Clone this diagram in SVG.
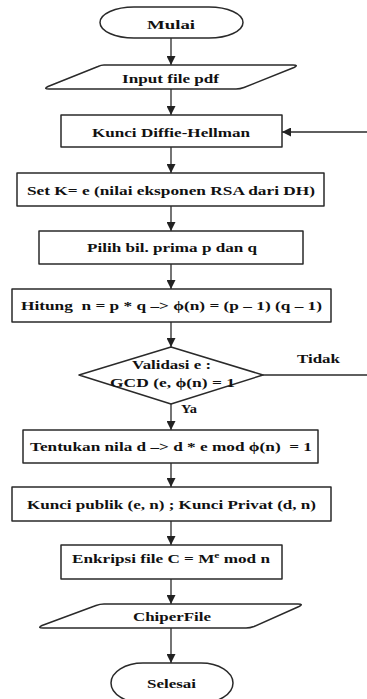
<svg xmlns="http://www.w3.org/2000/svg" width="367" height="699" viewBox="0 0 367 699">
<style>
.s{fill:#fff;stroke:#2a2a2a;stroke-width:1.5;stroke-linejoin:round}
.t{font-family:"Liberation Serif","Times New Roman",serif;font-weight:bold;font-size:13.5px;fill:#111}
.c{fill:none;stroke:#2a2a2a;stroke-width:1.3}
</style>
<defs>
<marker id="ah" viewBox="0 0 10 10" refX="10" refY="5" markerWidth="10" markerHeight="9" markerUnits="userSpaceOnUse" orient="auto">
<path d="M0,0 L10,5 L0,10 z" fill="#222"/>
</marker>
</defs>
<rect width="367" height="699" fill="#fff"/>
<g id="connectors">
<line class="c" x1="171" y1="38" x2="171" y2="65" marker-end="url(#ah)"/>
<line class="c" x1="171" y1="89" x2="171" y2="115" marker-end="url(#ah)"/>
<line class="c" x1="171" y1="147" x2="171" y2="173" marker-end="url(#ah)"/>
<line class="c" x1="171" y1="206" x2="171" y2="231" marker-end="url(#ah)"/>
<line class="c" x1="171" y1="264" x2="171" y2="289" marker-end="url(#ah)"/>
<line class="c" x1="171" y1="322" x2="171" y2="347" marker-end="url(#ah)"/>
<line class="c" x1="171" y1="404" x2="171" y2="430" marker-end="url(#ah)"/>
<line class="c" x1="171" y1="463" x2="171" y2="487" marker-end="url(#ah)"/>
<line class="c" x1="171" y1="521" x2="171" y2="545" marker-end="url(#ah)"/>
<line class="c" x1="171" y1="579" x2="171" y2="604" marker-end="url(#ah)"/>
<line class="c" x1="171" y1="628" x2="171" y2="663" marker-end="url(#ah)"/>
<line class="c" x1="367" y1="132" x2="282" y2="132" marker-end="url(#ah)"/>
<line class="c" x1="263" y1="375" x2="367" y2="375"/>
<text class="t" x="297" y="363" textLength="43" lengthAdjust="spacingAndGlyphs">Tidak</text>
<text class="t" x="181" y="413" textLength="16" lengthAdjust="spacingAndGlyphs">Ya</text>
</g>
<g id="mulai">
<rect class="s" x="100" y="7" width="143" height="31" rx="34" ry="15.5"/>
<text class="t" x="147" y="29" textLength="48" lengthAdjust="spacingAndGlyphs">Mulai</text>
</g>
<g id="input">
<path class="s" d="M104,65 L293,65 Q299,65 294,67.5 L244,87.5 Q240,89 236,89 L49,89 Q43,89 48,86.5 L98,66.5 Q101,65 104,65 z"/>
<text class="t" x="122" y="83" textLength="97" lengthAdjust="spacingAndGlyphs">Input file pdf</text>
</g>
<g id="dh">
<rect class="s" x="61" y="115" width="221" height="32"/>
<text class="t" x="92" y="137" textLength="158" lengthAdjust="spacingAndGlyphs">Kunci Diffie-Hellman</text>
</g>
<g id="setk">
<rect class="s" x="17" y="173" width="307" height="33"/>
<text class="t" x="27" y="195" textLength="288" lengthAdjust="spacingAndGlyphs">Set K= e (nilai eksponen RSA dari DH)</text>
</g>
<g id="pilih">
<rect class="s" x="39" y="231" width="264" height="33"/>
<text class="t" x="87" y="252" textLength="170" lengthAdjust="spacingAndGlyphs">Pilih bil. prima p dan q</text>
</g>
<g id="hitung">
<rect class="s" x="12" y="289" width="319" height="33"/>
<text class="t" x="21" y="310" textLength="301" lengthAdjust="spacingAndGlyphs" xml:space="preserve">Hitung  n = p * q –&gt; ϕ(n) = (p – 1) (q – 1)</text>
</g>
<g id="validasi">
<path class="s" d="M171,347 L263,375 L171,404 L79,375 z"/>
<text class="t" x="132" y="369" textLength="79" lengthAdjust="spacingAndGlyphs">Validasi e :</text>
<text class="t" x="110" y="387" textLength="125" lengthAdjust="spacingAndGlyphs">GCD (e, ϕ(n) = 1</text>
</g>
<g id="tentukan">
<rect class="s" x="23" y="430" width="295" height="33"/>
<text class="t" x="30" y="451" textLength="282" lengthAdjust="spacingAndGlyphs" xml:space="preserve">Tentukan nila d –&gt; d * e mod ϕ(n)  = 1</text>
</g>
<g id="kunci">
<rect class="s" x="12" y="487" width="319" height="34"/>
<text class="t" x="27" y="509" textLength="289" lengthAdjust="spacingAndGlyphs">Kunci publik (e, n) ; Kunci Privat (d, n)</text>
</g>
<g id="enkripsi">
<rect class="s" x="61" y="545" width="221" height="34"/>
<text class="t" x="72" y="563" textLength="198" lengthAdjust="spacingAndGlyphs">Enkripsi file C = M<tspan dy="-5" font-size="9">e</tspan><tspan dy="5"> mod n</tspan></text>
</g>
<g id="chiper">
<path class="s" d="M104,604 L298,604 Q304,604 299,606.5 L254,626.5 Q250,628 246,628 L43,628 Q37,628 42,625.5 L96,605.5 Q100,604 104,604 z"/>
<text class="t" x="133" y="621" textLength="78" lengthAdjust="spacingAndGlyphs">ChiperFile</text>
</g>
<g id="selesai">
<rect class="s" x="111" y="663" width="122" height="40" rx="32" ry="20"/>
<text class="t" x="147" y="688" textLength="49" lengthAdjust="spacingAndGlyphs">Selesai</text>
</g>
</svg>
